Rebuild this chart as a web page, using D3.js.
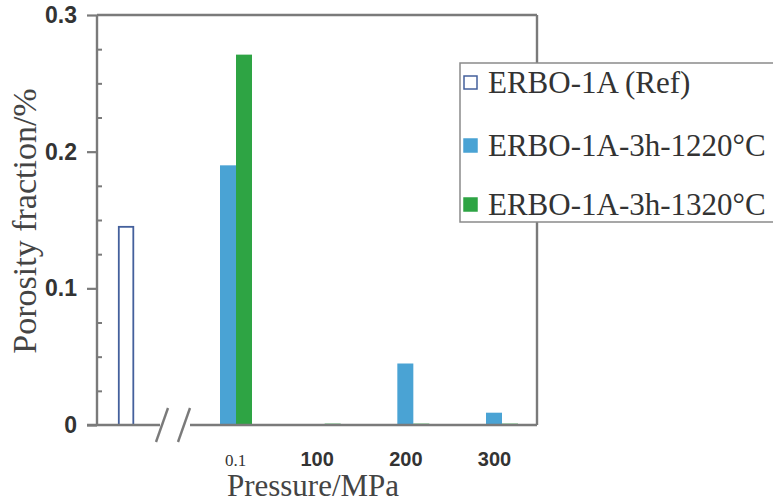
<!DOCTYPE html>
<html>
<head>
<meta charset="utf-8">
<script src="https://cdn.jsdelivr.net/npm/d3@7"></script>
<style>
  html, body { margin: 0; padding: 0; background: #fff; }
  svg { display: block; }
</style>
</head>
<body>
<svg id="chart" width="773" height="502"></svg>
<script>
// ---- data ----
const categories = ["0.1", "100", "200", "300"];
const refName = "ERBO-1A (Ref)";
const refValue = 0.145;
const seriesNames = ["ERBO-1A-3h-1220°C", "ERBO-1A-3h-1320°C"];
const values1220 = [0.19, 0.0, 0.045, 0.009];
const values1320 = [0.271, 0.001, 0.001, 0.001];
const yTickValues = [0, 0.1, 0.2, 0.3];
const yTickLabels = ["0", "0.1", "0.2", "0.3"];
const yMinorTicks = [0.025, 0.05, 0.075, 0.125, 0.15, 0.175, 0.225, 0.25, 0.275];
const xTitle = "Pressure/MPa";
const yTitle = "Porosity fraction/%";

// ---- layout ----
const svg = d3.select("#chart");
const plot = { left: 97, right: 537, top: 15, bottom: 425 };
const colors = { ref: "#44609c", s1220: "#4aa3d4", s1320: "#2ea444", axis: "#7a7a7a", text: "#333" };
const barW = 16;

const y = d3.scaleLinear().domain([0, 0.3]).range([plot.bottom, plot.top]);
// group position scale (index based), Ref sits before the axis break
const xIdx = d3.scaleLinear().domain([0, categories.length - 1]).range([236, 502]);
const refPos = xIdx(-1.24);

// ---- bars ----
const groups = categories.map((c, i) => ({ c, i, v1: values1220[i], v2: values1320[i] }));

svg.append("rect")
  .attr("x", refPos - barW / 2 + 0.75)
  .attr("y", y(refValue))
  .attr("width", barW - 1.5)
  .attr("height", y(0) - y(refValue))
  .attr("fill", "#fff")
  .attr("stroke", colors.ref)
  .attr("stroke-width", 1.8);

svg.append("g").selectAll("rect.b1").data(groups).join("rect")
  .attr("x", d => xIdx(d.i) - barW)
  .attr("y", d => y(d.v1))
  .attr("width", barW)
  .attr("height", d => y(0) - y(d.v1))
  .attr("fill", colors.s1220);

svg.append("g").selectAll("rect.b2").data(groups).join("rect")
  .attr("x", d => xIdx(d.i))
  .attr("y", d => y(d.v2))
  .attr("width", barW)
  .attr("height", d => Math.max(1.2, y(0) - y(d.v2)))
  .attr("fill", colors.s1320);

// ---- frame ----
const frame = svg.append("g").attr("stroke", colors.axis).attr("stroke-width", 2.4).attr("fill", "none");
frame.append("line").attr("x1", plot.left).attr("x2", plot.right).attr("y1", plot.top).attr("y2", plot.top);
frame.append("line").attr("x1", plot.right).attr("x2", plot.right).attr("y1", plot.top).attr("y2", plot.bottom);
frame.append("line").attr("x1", plot.left).attr("x2", plot.left).attr("y1", plot.top).attr("y2", plot.bottom);
// bottom axis with break
frame.append("line").attr("x1", plot.left - 10).attr("x2", 160).attr("y1", plot.bottom).attr("y2", plot.bottom);
frame.append("line").attr("x1", 190).attr("x2", plot.right).attr("y1", plot.bottom).attr("y2", plot.bottom);
frame.append("line").attr("x1", 156).attr("y1", 442).attr("x2", 168).attr("y2", 408);
frame.append("line").attr("x1", 178).attr("y1", 442).attr("x2", 190).attr("y2", 408);

// ---- y axis ----
const yAxis = d3.axisLeft(y).tickValues(yTickValues).tickSize(10).tickPadding(10)
  .tickFormat((d, i) => yTickLabels[i]);
const gy = svg.append("g").attr("transform", `translate(${plot.left},0)`).call(yAxis);
gy.select(".domain").remove();
gy.selectAll(".tick line").attr("stroke", colors.axis).attr("stroke-width", 2.2);
gy.selectAll(".tick text").attr("fill", colors.text)
  .style("font-family", "'Liberation Sans', Arial, sans-serif")
  .style("font-weight", "bold").style("font-size", "23px");

const yMinor = d3.axisRight(y).tickValues(yMinorTicks).tickSize(5).tickFormat("");
const gym = svg.append("g").attr("transform", `translate(${plot.left},0)`).call(yMinor);
gym.select(".domain").remove();
gym.selectAll(".tick line").attr("stroke", colors.axis).attr("stroke-width", 2);

// ---- x labels ----
const xAxis = d3.axisBottom(xIdx).tickValues(d3.range(categories.length)).tickSize(0).tickPadding(0)
  .tickFormat(i => categories[i]);
const gx = svg.append("g").attr("transform", `translate(0,${plot.bottom})`).call(xAxis);
gx.select(".domain").remove();
gx.selectAll(".tick text")
  .attr("fill", colors.text)
  .attr("dy", null)
  .attr("y", 41)
  .attr("dx", (d, i) => i === 0 ? -1 : -8)
  .style("font-family", (d, i) => i === 0 ? "'Liberation Serif', 'Times New Roman', serif" : "'Liberation Sans', Arial, sans-serif")
  .style("font-weight", (d, i) => i === 0 ? "normal" : "bold")
  .style("font-size", (d, i) => i === 0 ? "17px" : "20px");

// ---- titles ----
svg.append("text")
  .attr("x", 313).attr("y", 496)
  .attr("text-anchor", "middle")
  .attr("fill", "#444")
  .style("font-family", "'Liberation Serif', 'Times New Roman', serif")
  .style("font-size", "31px")
  .text(xTitle);

svg.append("text")
  .attr("transform", "translate(36,221) rotate(-90)")
  .attr("text-anchor", "middle")
  .attr("fill", "#444")
  .style("font-family", "'Liberation Serif', 'Times New Roman', serif")
  .style("font-size", "34px")
  .text(yTitle);

// ---- legend ----
const legendItems = [
  { name: refName, fill: "#fff", stroke: colors.ref },
  { name: seriesNames[0], fill: colors.s1220, stroke: colors.s1220 },
  { name: seriesNames[1], fill: colors.s1320, stroke: colors.s1320 }
];
const lg = svg.append("g");
lg.append("rect").attr("x", 460).attr("y", 63).attr("width", 330).attr("height", 159)
  .attr("fill", "#fff").attr("stroke", "#8a8a8a").attr("stroke-width", 1.5);
const li = lg.selectAll("g.item").data(legendItems).join("g")
  .attr("transform", (d, i) => `translate(0,${[93, 156, 215][i]})`);
li.append("rect").attr("x", 464).attr("y", -17).attr("width", 13).attr("height", 13)
  .attr("fill", d => d.fill).attr("stroke", d => d.stroke).attr("stroke-width", 1.5);
li.append("text").attr("x", 488).attr("y", 0)
  .attr("fill", "#333")
  .style("font-family", "'Liberation Serif', 'Times New Roman', serif")
  .style("font-size", "31px")
  .text(d => d.name);
</script>
</body>
</html>
